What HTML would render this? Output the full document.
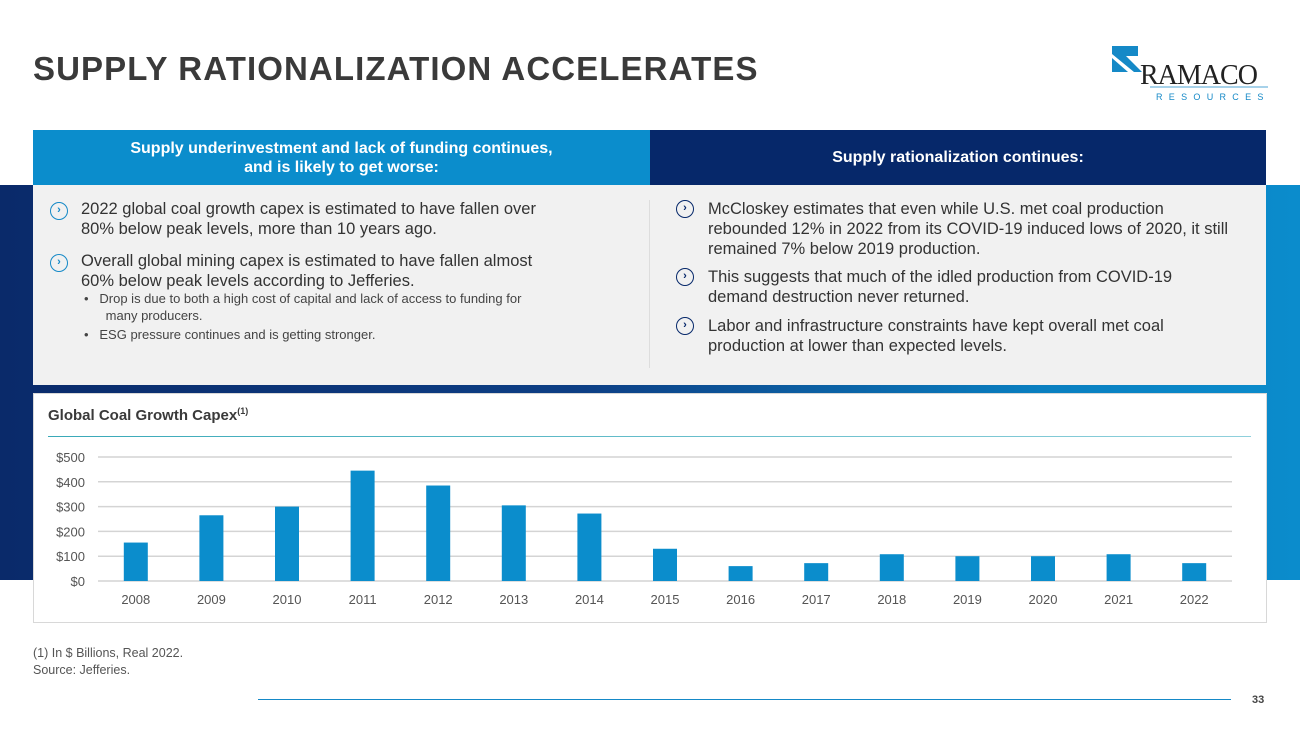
<!DOCTYPE html>
<html><head><meta charset="utf-8"><style>
*{margin:0;padding:0;box-sizing:border-box}
body{width:1300px;height:731px;position:relative;background:#fff;font-family:"Liberation Sans",sans-serif;overflow:hidden}
.abs{position:absolute}
.band{left:0;top:185px;width:1300px;height:395px;background:linear-gradient(90deg,#0a2a6a 0%,#0d3f85 45%,#0a7fc0 80%,#0b8ccc 100%)}
.title{left:33px;top:50px;font-size:33px;font-weight:bold;color:#3a3a3a;letter-spacing:1.1px}
.hdr{top:130px;height:55px;color:#fff;font-weight:bold;font-size:16px;display:flex;align-items:center;justify-content:center;text-align:center;line-height:19px}
.panel{left:33px;top:185px;width:1233px;height:200px;background:#f1f1f1}
.bul{font-size:16.5px;color:#333;line-height:20px}
.ic{width:18px;height:18px;border:1.5px solid;border-radius:50%;font-size:11px;text-align:center;line-height:15px;font-weight:bold}
.sub{font-size:13px;color:#444;line-height:17px}
</style></head><body>
<div class="abs band"></div>
<div class="abs title">SUPPLY RATIONALIZATION ACCELERATES</div>
<div class="abs" style="left:1112px;top:46px">
 <svg width="160" height="56"><polygon points="0,0 26,0 26,10 14,10 30,26 22,26 0,8" fill="#1589c7"/><polygon points="0,12 16,26 0,26" fill="#1589c7"/>
 <text x="28" y="38" font-family="Liberation Serif,serif" font-size="28" fill="#222" letter-spacing="-1">RAMACO</text>
 <line x1="38" y1="41" x2="156" y2="41" stroke="#1589c7" stroke-width="0.8"/>
 <text x="44" y="54" font-size="9" fill="#1589c7" letter-spacing="6.3">RESOURCES</text></svg></div>
<div class="abs hdr" style="left:33px;width:617px;background:#0b8dcc">Supply underinvestment and lack of funding continues,<br>and is likely to get worse:</div>
<div class="abs hdr" style="left:650px;width:616px;background:#06286a">Supply rationalization continues:</div>
<div class="abs panel"></div>
<div class="abs" style="left:649px;top:200px;width:1px;height:168px;background:#ddd"></div>
<div class="abs ic" style="left:50px;top:202px;color:#1589c7">›</div>
<div class="abs bul" style="left:81px;top:199px;width:540px">2022 global coal growth capex is estimated to have fallen over<br>80% below peak levels, more than 10 years ago.</div>
<div class="abs ic" style="left:50px;top:254px;color:#1589c7">›</div>
<div class="abs bul" style="left:81px;top:251px;width:540px">Overall global mining capex is estimated to have fallen almost<br>60% below peak levels according to Jefferies.</div>
<div class="abs sub" style="left:84px;top:290px;width:540px">•&nbsp;&nbsp; Drop is due to both a high cost of capital and lack of access to funding for<br>&nbsp;&nbsp;&nbsp;&nbsp;&nbsp; many producers.</div>
<div class="abs sub" style="left:84px;top:326px;width:540px">•&nbsp;&nbsp; ESG pressure continues and is getting stronger.</div>
<div class="abs ic" style="left:676px;top:200px;color:#06286a">›</div>
<div class="abs bul" style="left:708px;top:199px;width:535px">McCloskey estimates that even while U.S. met coal production rebounded 12% in 2022 from its COVID-19 induced lows of 2020, it still remained 7% below 2019 production.</div>
<div class="abs ic" style="left:676px;top:268px;color:#06286a">›</div>
<div class="abs bul" style="left:708px;top:267px;width:525px">This suggests that much of the idled production from COVID-19 demand destruction never returned.</div>
<div class="abs ic" style="left:676px;top:317px;color:#06286a">›</div>
<div class="abs bul" style="left:708px;top:316px;width:515px">Labor and infrastructure constraints have kept overall met coal production at lower than expected levels.</div>
<div class="abs" style="left:33px;top:393px;width:1234px;height:230px;background:#fff;border:1px solid #d8d8d8"></div>
<div class="abs" style="left:48px;top:406px;font-size:15px;font-weight:bold;color:#3a3a3a">Global Coal Growth Capex<sup style="font-size:9px">(1)</sup></div>
<div class="abs" style="left:48px;top:436px;width:1203px;height:1px;background:linear-gradient(90deg,#39a9b8,#8fd0dc)"></div>
<svg class="abs" style="left:0;top:0" width="1300" height="731" id="chart"></svg>
<div class="abs" style="left:33px;top:645px;font-size:12.5px;color:#555;line-height:17px">(1) In $ Billions, Real 2022.<br>Source: Jefferies.</div>
<div class="abs" style="left:258px;top:699px;width:973px;height:1px;background:#1589c7"></div>
<div class="abs" style="left:1252px;top:694px;font-size:11px;font-weight:bold;color:#444">33</div>
<script>
const years=["2008","2009","2010","2011","2012","2013","2014","2015","2016","2017","2018","2019","2020","2021","2022"];
const capex=[155,265,300,445,385,305,272,130,60,72,108,100,100,108,72];
const yTicks=[0,100,200,300,400,500];
const yLabels=["$0","$100","$200","$300","$400","$500"];
const svg=document.getElementById('chart');const NS='http://www.w3.org/2000/svg';
const L=98,R=1232,B=581,T=457,MAX=500;
const y=v=>B-(B-T)*v/MAX;const step=(R-L)/years.length;const x=i=>L+step*(i+0.5);
function mk(t,a){const e=document.createElementNS(NS,t);for(const k in a)e.setAttribute(k,a[k]);svg.appendChild(e);return e;}
yTicks.forEach((v,i)=>{const g=mk('line',{x1:L,x2:R,y1:y(v),y2:y(v),stroke:'#d4d4d4','stroke-width':1.5});


const t=mk('text',{x:85,y:y(v)+5,'text-anchor':'end','font-size':13,fill:'#555'});t.textContent=yLabels[i];

});
years.forEach((yr,i)=>{const r=mk('rect',{x:x(i)-12,y:y(capex[i]),width:24,height:B-y(capex[i]),fill:'#0b8dcc'});


const t=mk('text',{x:x(i),y:604,'text-anchor':'middle','font-size':13,fill:'#555'});t.textContent=yr;

});
</script>
</body></html>
